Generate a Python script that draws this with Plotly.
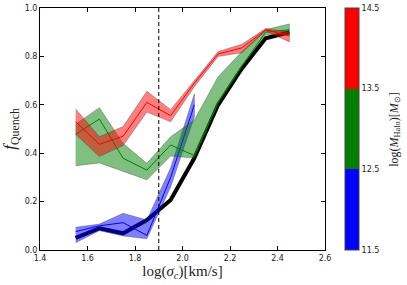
import plotly.graph_objects as go

# ---- data ----
sigma = [1.55, 1.65, 1.75, 1.85, 1.95, 2.05, 2.15, 2.25, 2.35, 2.45]

red_mid = [0.53, 0.437, 0.47, 0.61, 0.555, 0.69, 0.81, 0.835, 0.91, 0.885]
red_lo = [0.478, 0.386, 0.432, 0.57, 0.53, 0.675, 0.80, 0.815, 0.905, 0.86]
red_hi = [0.583, 0.468, 0.51, 0.656, 0.58, 0.70, 0.82, 0.85, 0.915, 0.90]

green_mid = [0.478, 0.541, 0.379, 0.33, 0.434, 0.39, 0.61, 0.76, 0.90, 0.91]
green_lo = [0.348, 0.36, 0.324, 0.29, 0.388, 0.38, 0.605, 0.757, 0.888, 0.895]
green_hi = [0.52, 0.588, 0.44, 0.358, 0.468, 0.537, 0.716, 0.82, 0.911, 0.934]

sigma_blue = [1.55, 1.65, 1.75, 1.85, 1.95, 2.05]
blue_mid = [0.076, 0.10, 0.113, 0.06, 0.30, 0.60]
blue_lo = [0.03, 0.08, 0.058, 0.046, 0.26, 0.55]
blue_hi = [0.094, 0.107, 0.152, 0.124, 0.34, 0.645]

black_mid = [0.05, 0.09, 0.069, 0.124, 0.207, 0.38, 0.60, 0.75, 0.875, 0.90]

sigma_cut = 1.9
halo_edges = [11.5, 12.5, 13.5, 14.5]
halo_colors = ["blue", "green", "red"]

x_ticks = [1.4, 1.6, 1.8, 2.0, 2.2, 2.4, 2.6]
y_ticks = [0.0, 0.2, 0.4, 0.6, 0.8, 1.0]

fig = go.Figure()


def band(x, lo, hi, fill):
    fig.add_trace(go.Scatter(
        x=list(x) + list(x)[::-1], y=list(hi) + list(lo)[::-1],
        fill="toself", fillcolor=fill, mode="lines",
        line=dict(color="rgba(60,60,60,0.6)", width=0.6),
        hoverinfo="skip", showlegend=False))


# black
fig.add_trace(go.Scatter(x=sigma, y=black_mid, mode="lines",
                         line=dict(color="black", width=4), showlegend=False))
# blue
band(sigma_blue, blue_lo, blue_hi, "rgba(0,0,255,0.5)")
fig.add_trace(go.Scatter(x=sigma_blue, y=blue_mid, mode="lines",
                         line=dict(color="blue", width=1), showlegend=False))
# green
band(sigma, green_lo, green_hi, "rgba(0,128,0,0.5)")
fig.add_trace(go.Scatter(x=sigma, y=green_mid, mode="lines",
                         line=dict(color="green", width=1), showlegend=False))
# red
band(sigma, red_lo, red_hi, "rgba(255,0,0,0.5)")
fig.add_trace(go.Scatter(x=sigma, y=red_mid, mode="lines",
                         line=dict(color="red", width=1), showlegend=False))

# colorbar (discrete)
lo, hi = halo_edges[0], halo_edges[-1]
cs = []
for i, c in enumerate(halo_colors):
    cs.append([(halo_edges[i] - lo) / (hi - lo), c])
    cs.append([(halo_edges[i + 1] - lo) / (hi - lo), c])
fig.add_trace(go.Scatter(
    x=[None], y=[None], mode="markers", showlegend=False, hoverinfo="skip",
    marker=dict(color=[lo], cmin=lo, cmax=hi, colorscale=cs, showscale=True,
                colorbar=dict(
                    x=1.07, xanchor="left", y=0.5, yanchor="middle",
                    len=1.0, lenmode="fraction", thickness=14, ypad=0, xpad=0,
                    outlinecolor="#444", outlinewidth=1,
                    tickvals=halo_edges, ticktext=[f"{v:.1f}" for v in halo_edges],
                    ticks="", tickfont=dict(size=8, family="DejaVu Sans", color="#222"),
                ))))

fig.add_annotation(text="log(<i>M</i><sub>Halo</sub>)[<i>M</i><sub>⊙</sub>]",
                   xref="paper", yref="paper", x=1.245, y=0.5, xanchor="center",
                   yanchor="middle", textangle=-90, showarrow=False,
                   font=dict(size=12, family="Liberation Serif", color="#222"))

fig.add_shape(type="line", x0=sigma_cut, x1=sigma_cut, y0=0, y1=1, yref="y",
              line=dict(color="black", width=1, dash="4px,3px"))

axis_common = dict(showline=True, linecolor="black", linewidth=1, mirror="ticks",
                   ticks="inside", ticklen=4, tickcolor="black", showgrid=False,
                   zeroline=False, tickfont=dict(size=8, family="DejaVu Sans", color="#222"))

fig.update_xaxes(range=[1.4, 2.6], tickvals=x_ticks, tickformat=".1f",
                 title=dict(text="log(<i>σ</i><sub><i>c</i></sub>)[km/s]",
                            font=dict(size=15, family="Liberation Serif", color="#222"),
                            standoff=2),
                 **axis_common)
fig.update_yaxes(range=[0, 1], tickvals=y_ticks, tickformat=".1f",
                 title=dict(text="<i>f</i><sub>Quench</sub>",
                            font=dict(size=17, family="Liberation Serif", color="#222"),
                            standoff=4),
                 **axis_common)

fig.update_layout(width=407, height=285, plot_bgcolor="white", paper_bgcolor="white",
                  margin=dict(l=40, r=82, t=8, b=35, autoexpand=False), showlegend=False)

fig.write_html("out.html", config={"displayModeBar": False},
               post_script="document.body.style.margin='0';")
